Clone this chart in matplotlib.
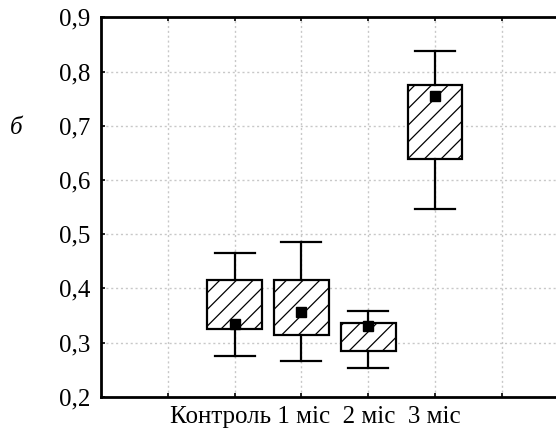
"""Box plot: Контроль, 1 міс, 2 міс, 3 міс (панель б)."""

import matplotlib

matplotlib.use("Agg")

import matplotlib.pyplot as plt
from matplotlib.ticker import FuncFormatter

# Дані
categories = ["Контроль", "1 міс", "2 міс", "3 міс"]
positions = [2, 3, 4, 5]
whisker_low = [0.275, 0.265, 0.253, 0.546]
q1_values = [0.325, 0.314, 0.285, 0.638]
medians = [0.334, 0.357, 0.331, 0.754]
q3_values = [0.415, 0.415, 0.336, 0.776]
whisker_high = [0.466, 0.486, 0.358, 0.838]

y_ticks = [0.2, 0.3, 0.4, 0.5, 0.6, 0.7, 0.8, 0.9]
x_grid = [1, 2, 3, 4, 5, 6]

plt.rcParams["font.family"] = ["Liberation Serif", "DejaVu Serif"]
plt.rcParams["hatch.linewidth"] = 0.9

fig = plt.figure(figsize=(5.56, 4.30), dpi=100)
ax = fig.add_axes([0.1817, 0.0774, 0.841, 0.8823])

stats = [
    {"whislo": lo, "q1": q1, "med": med, "q3": q3, "whishi": hi, "fliers": []}
    for lo, q1, med, q3, hi in zip(whisker_low, q1_values, medians, q3_values, whisker_high)
]

ax.bxp(
    stats,
    positions=positions,
    widths=0.82,
    capwidths=0.6,
    patch_artist=True,
    showfliers=False,
    boxprops={"facecolor": "white", "edgecolor": "black", "linewidth": 1.6, "hatch": "//"},
    whiskerprops={"color": "black", "linewidth": 1.6},
    capprops={"color": "black", "linewidth": 1.6},
    medianprops={"linestyle": "none"},
    zorder=3,
)

ax.plot(positions, medians, linestyle="none", marker="s", markersize=7.5,
        color="black", zorder=4)

ax.set_xlim(0, 7)
ax.set_ylim(0.2, 0.9)
ax.set_yticks(y_ticks)
ax.yaxis.set_major_formatter(FuncFormatter(lambda v, _: f"{v:.1f}".replace(".", ",")))
ax.set_xticks(x_grid)
ax.set_xticklabels([])

ax.tick_params(axis="both", direction="in", length=3, width=1.2, labelsize=18)
ax.tick_params(axis="x", top=True)
ax.tick_params(axis="y", pad=8)

ax.grid(True, color="#c8c8c8", linestyle=(0, (1.5, 2)), linewidth=1.0, zorder=0)
ax.set_axisbelow(True)

for side in ["left", "bottom", "top", "right"]:
    ax.spines[side].set_linewidth(2.0)

x_label = categories[0] + " " + "  ".join(categories[1:])
fig.text(315 / 556, 1 - 423 / 430, x_label, ha="center", va="baseline", fontsize=18)
fig.text(16 / 556, 1 - 128 / 430, "б", ha="center", va="center", fontsize=18, style="italic")

fig.savefig("out.png", dpi=100)
